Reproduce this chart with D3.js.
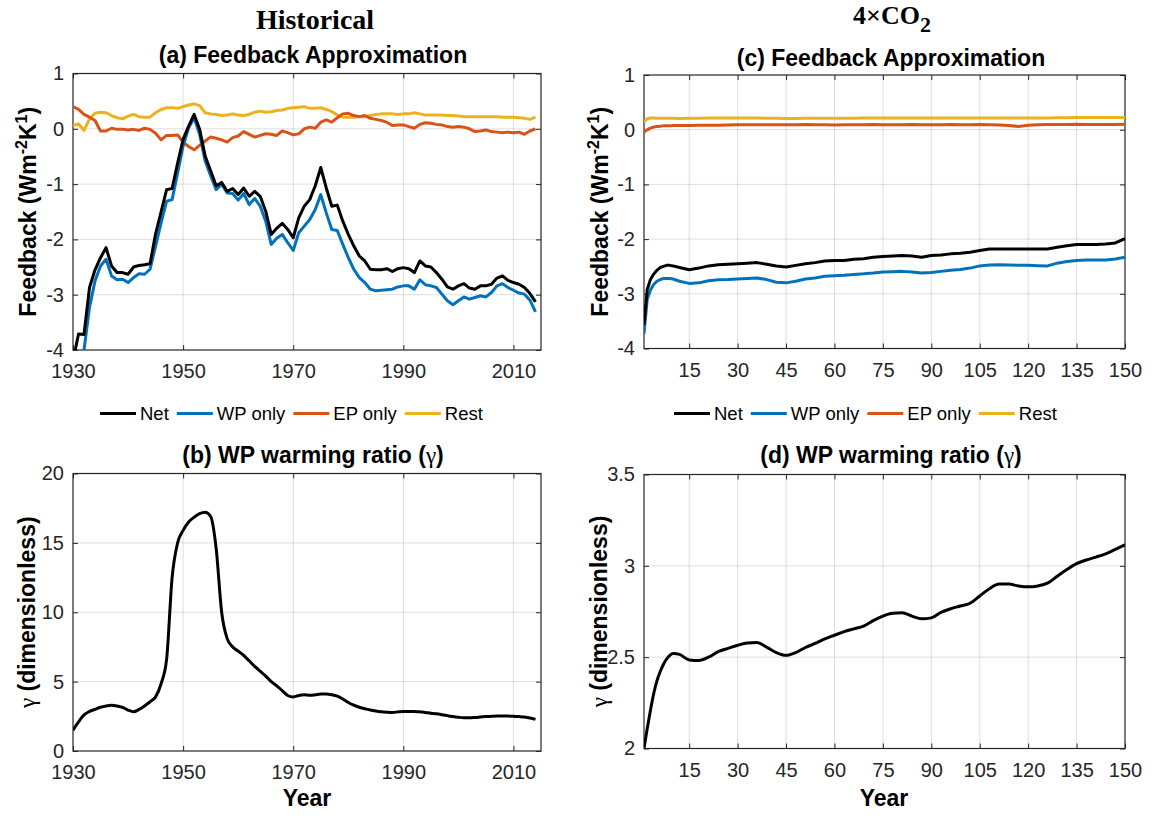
<!DOCTYPE html>
<html>
<head>
<meta charset="utf-8">
<script src="https://cdn.jsdelivr.net/npm/d3@7"></script>
<style>
  body { margin: 0; background: #fff; }
</style>
</head>
<body>
<div id="chart"></div>
<script>
// ---- data ----
const histYears = d3.range(1930, 2015);

const histNet = [
  -4.2, -3.71, -3.72, -2.87, -2.55, -2.33, -2.15, -2.48, -2.60, -2.60,
  -2.63, -2.50, -2.47, -2.46, -2.44, -1.90, -1.50, -1.10, -1.08, -0.62,
  -0.19, 0.05, 0.26, -0.01, -0.49, -0.76, -1.03, -0.97, -1.13, -1.08,
  -1.19, -1.07, -1.22, -1.13, -1.22, -1.49, -1.91, -1.80, -1.71, -1.82,
  -1.97, -1.61, -1.40, -1.28, -1.03, -0.70, -1.07, -1.40, -1.38, -1.67,
  -1.91, -2.12, -2.30, -2.39, -2.54, -2.55, -2.55, -2.53, -2.58, -2.53,
  -2.51, -2.53, -2.60, -2.39, -2.48, -2.50, -2.60, -2.72, -2.86, -2.90,
  -2.84, -2.80, -2.88, -2.90, -2.84, -2.84, -2.81, -2.70, -2.66, -2.74,
  -2.78, -2.81, -2.87, -2.98, -3.13
];
const histWP = [
  -5.0, -4.5, -4.0, -3.23, -2.75, -2.48, -2.36, -2.66, -2.73, -2.72,
  -2.78, -2.69, -2.62, -2.63, -2.54, -2.12, -1.70, -1.31, -1.28, -0.80,
  -0.31, 0.02, 0.20, -0.10, -0.58, -0.85, -1.10, -1.00, -1.16, -1.17,
  -1.29, -1.17, -1.37, -1.26, -1.40, -1.67, -2.09, -1.98, -1.91, -2.06,
  -2.20, -1.88, -1.76, -1.64, -1.46, -1.19, -1.52, -1.82, -1.84, -2.09,
  -2.33, -2.54, -2.69, -2.78, -2.90, -2.93, -2.92, -2.91, -2.90, -2.86,
  -2.84, -2.84, -2.90, -2.73, -2.82, -2.84, -2.87, -2.99, -3.11, -3.18,
  -3.11, -3.04, -3.08, -3.05, -3.02, -3.04, -2.96, -2.84, -2.80, -2.87,
  -2.92, -2.97, -2.99, -3.10, -3.31
];
const histEP = [
  0.40, 0.35, 0.26, 0.21, 0.15, -0.04, -0.04, 0.01, -0.01, -0.01,
  -0.02, -0.01, -0.03, 0.01, -0.01, -0.08, -0.20, -0.12, -0.12, -0.11,
  -0.24, -0.32, -0.38, -0.30, -0.22, -0.15, -0.17, -0.20, -0.24, -0.16,
  -0.13, -0.05, -0.10, -0.15, -0.12, -0.09, -0.10, -0.12, -0.04, -0.07,
  -0.11, -0.09, 0.00, 0.03, 0.01, 0.12, 0.16, 0.12, 0.20, 0.27,
  0.28, 0.24, 0.22, 0.24, 0.19, 0.17, 0.15, 0.12, 0.06, 0.07,
  0.07, 0.04, 0.01, 0.08, 0.11, 0.10, 0.08, 0.07, 0.04, 0.03,
  0.04, 0.03, 0.00, -0.05, -0.04, -0.02, -0.05, -0.06, -0.07, -0.06,
  -0.07, -0.06, -0.10, -0.04, 0.00
];
const histRest = [
  0.06, 0.09, -0.03, 0.18, 0.28, 0.30, 0.29, 0.24, 0.20, 0.18,
  0.23, 0.26, 0.22, 0.21, 0.21, 0.29, 0.35, 0.38, 0.38, 0.37,
  0.40, 0.43, 0.45, 0.42, 0.29, 0.27, 0.26, 0.24, 0.25, 0.27,
  0.25, 0.24, 0.26, 0.30, 0.32, 0.30, 0.31, 0.33, 0.34, 0.37,
  0.38, 0.39, 0.40, 0.37, 0.37, 0.38, 0.35, 0.31, 0.25, 0.21,
  0.21, 0.21, 0.22, 0.22, 0.24, 0.26, 0.27, 0.27, 0.27, 0.26,
  0.27, 0.27, 0.29, 0.27, 0.25, 0.25, 0.25, 0.25, 0.24, 0.24,
  0.23, 0.22, 0.22, 0.22, 0.22, 0.22, 0.22, 0.22, 0.21, 0.21,
  0.21, 0.20, 0.19, 0.17, 0.21
];
const histGamma = [
  1.5, 2.1, 2.6, 2.85, 3.0, 3.15, 3.25, 3.3, 3.25, 3.15,
  2.95, 2.83, 3.0, 3.25, 3.55, 3.9, 4.85, 6.6, 12.5, 15.0,
  15.9, 16.5, 16.85, 17.1, 17.2, 16.9, 14.6, 10.0, 8.1, 7.5,
  7.2, 6.9, 6.5, 6.1, 5.75, 5.4, 5.0, 4.7, 4.35, 4.0,
  3.9, 4.0, 4.05, 4.02, 4.05, 4.1, 4.1, 4.05, 3.95, 3.75,
  3.5, 3.3, 3.15, 3.05, 2.95, 2.88, 2.83, 2.8, 2.78, 2.82,
  2.85, 2.85, 2.84, 2.83, 2.78, 2.72, 2.68, 2.62, 2.55, 2.48,
  2.43, 2.4, 2.4, 2.42, 2.45, 2.48, 2.5, 2.52, 2.52, 2.52,
  2.5, 2.48, 2.45, 2.38, 2.28
];

const co2Years = [
  1, 2, 3, 4, 5, 6, 7, 8, 9, 10, 12,
  15, 18, 21, 24, 27, 30, 33, 36, 39, 42,
  45, 48, 51, 54, 57, 60, 63, 66, 69, 72,
  75, 78, 81, 84, 87, 90, 93, 96, 99, 102,
  105, 108, 111, 114, 117, 120, 123, 126, 129, 132,
  135, 138, 141, 144, 147, 150
];
const co2Net = [
  -3.57, -2.92, -2.74, -2.64, -2.57, -2.52, -2.50, -2.48, -2.48, -2.49, -2.52,
  -2.56, -2.53, -2.49, -2.47, -2.46, -2.45, -2.44, -2.43, -2.46, -2.49,
  -2.51, -2.48, -2.45, -2.43, -2.40, -2.39, -2.39, -2.37, -2.36, -2.33,
  -2.32, -2.31, -2.30, -2.31, -2.33, -2.30, -2.29, -2.27, -2.26, -2.24,
  -2.21, -2.18, -2.18, -2.18, -2.18, -2.18, -2.18, -2.18, -2.15, -2.12,
  -2.10, -2.10, -2.10, -2.09, -2.07, -1.99
];
const co2WP = [
  -3.73, -3.10, -2.93, -2.83, -2.77, -2.74, -2.72, -2.72, -2.72, -2.73, -2.77,
  -2.81, -2.80, -2.76, -2.745, -2.74, -2.73, -2.72, -2.71, -2.74, -2.79,
  -2.80, -2.77, -2.73, -2.71, -2.68, -2.67, -2.66, -2.645, -2.635, -2.62,
  -2.60, -2.595, -2.59, -2.60, -2.62, -2.61, -2.59, -2.57, -2.555, -2.53,
  -2.49, -2.475, -2.47, -2.475, -2.48, -2.48, -2.485, -2.49, -2.44, -2.41,
  -2.39, -2.38, -2.38, -2.38, -2.365, -2.33
];
const co2EP = [
  -0.04, 0.00, 0.03, 0.05, 0.06, 0.065, 0.07, 0.07, 0.07, 0.075, 0.075,
  0.075, 0.08, 0.08, 0.08, 0.085, 0.09, 0.09, 0.09, 0.09, 0.09,
  0.09, 0.09, 0.095, 0.09, 0.09, 0.085, 0.09, 0.09, 0.09, 0.095,
  0.09, 0.09, 0.09, 0.095, 0.09, 0.09, 0.09, 0.095, 0.09, 0.09,
  0.095, 0.09, 0.085, 0.075, 0.06, 0.08, 0.09, 0.095, 0.095, 0.095,
  0.10, 0.095, 0.095, 0.095, 0.095, 0.10
];
const co2Rest = [
  0.14, 0.20, 0.215, 0.215, 0.21, 0.21, 0.21, 0.21, 0.21, 0.21, 0.205,
  0.21, 0.21, 0.215, 0.215, 0.215, 0.215, 0.215, 0.215, 0.21, 0.21,
  0.205, 0.205, 0.21, 0.21, 0.21, 0.21, 0.21, 0.21, 0.215, 0.215,
  0.215, 0.215, 0.215, 0.215, 0.215, 0.215, 0.215, 0.215, 0.215, 0.215,
  0.215, 0.215, 0.215, 0.215, 0.215, 0.215, 0.215, 0.215, 0.22, 0.22,
  0.225, 0.225, 0.225, 0.225, 0.225, 0.225
];
const co2Gamma = [
  2.00, 2.11, 2.21, 2.30, 2.37, 2.42, 2.46, 2.49, 2.51, 2.52, 2.515,
  2.485, 2.482, 2.50, 2.53, 2.548, 2.565, 2.578, 2.58, 2.555, 2.525,
  2.51, 2.525, 2.553, 2.575, 2.60, 2.62, 2.64, 2.655, 2.67, 2.70,
  2.725, 2.74, 2.743, 2.725, 2.71, 2.715, 2.745, 2.765, 2.78, 2.795,
  2.835, 2.875, 2.90, 2.90, 2.89, 2.885, 2.89, 2.905, 2.943, 2.98,
  3.012, 3.032, 3.048, 3.066, 3.09, 3.115
];

const seriesNames = ["Net", "WP only", "EP only", "Rest"];
const seriesColors = ["#000000", "#0072BD", "#D95319", "#EDB120"];

const histTicks = [1930, 1950, 1970, 1990, 2010];
const co2Ticks = [15, 30, 45, 60, 75, 90, 105, 120, 135, 150];
const feedbackTicks = [-4, -3, -2, -1, 0, 1];
const histGammaTicks = [0, 5, 10, 15, 20];
const co2GammaTicks = [2, 2.5, 3, 3.5];

// ---- layout ----
const width = 1154;
const height = 816;
const FONT = "'Liberation Sans', Arial, Helvetica, sans-serif";
const SERIF = "'Liberation Serif', 'Times New Roman', serif";
const INK = "#262626";

const boxA = { left: 73, right: 541, top: 73.5, bottom: 350 };
const boxB = { left: 73, right: 541, top: 473.5, bottom: 751 };
const boxC = { left: 644, right: 1125, top: 75, bottom: 348.5 };
const boxD = { left: 644, right: 1125, top: 474.5, bottom: 748.5 };

const svg = d3.create("svg")
    .attr("width", width)
    .attr("height", height)
    .attr("viewBox", [0, 0, width, height])
    .attr("font-family", FONT);

document.getElementById("chart").appendChild(svg.node());

svg.append("rect").attr("width", width).attr("height", height).attr("fill", "#fff");

let clipCount = 0;

/*
Axes frame: grid, box, inward ticks on all sides, tick labels.
*/
function drawAxes(box, xDomain, yDomain, xTicks, yTicks) {
    const x = d3.scaleLinear().domain(xDomain).range([box.left, box.right]);
    const y = d3.scaleLinear().domain(yDomain).range([box.bottom, box.top]);
    const g = svg.append("g");

    // grid
    g.append("g")
        .selectAll("line")
        .data(xTicks.filter(t => t > xDomain[0] && t < xDomain[1]))
        .join("line")
            .attr("x1", d => x(d)).attr("x2", d => x(d))
            .attr("y1", box.top).attr("y2", box.bottom)
            .attr("stroke", INK).attr("stroke-opacity", 0.15);
    g.append("g")
        .selectAll("line")
        .data(yTicks.filter(t => t > yDomain[0] && t < yDomain[1]))
        .join("line")
            .attr("y1", d => y(d)).attr("y2", d => y(d))
            .attr("x1", box.left).attr("x2", box.right)
            .attr("stroke", INK).attr("stroke-opacity", 0.15);

    const style = sel => {
        sel.select(".domain").remove();
        sel.attr("font-family", FONT).attr("font-size", 20);
        sel.selectAll("line").attr("stroke", INK);
        sel.selectAll("text").attr("fill", INK);
    };

    g.append("g")
        .attr("transform", `translate(0,${box.bottom})`)
        .call(d3.axisBottom(x).tickValues(xTicks).tickSizeInner(-5).tickSizeOuter(0)
            .tickPadding(14).tickFormat(d => String(d)))
        .call(style);
    g.append("g")
        .attr("transform", `translate(0,${box.top})`)
        .call(d3.axisTop(x).tickValues(xTicks).tickSizeInner(-5).tickSizeOuter(0).tickFormat(""))
        .call(style);
    g.append("g")
        .attr("transform", `translate(${box.left},0)`)
        .call(d3.axisLeft(y).tickValues(yTicks).tickSizeInner(-5).tickSizeOuter(0)
            .tickPadding(9).tickFormat(d => String(d)))
        .call(style);
    g.append("g")
        .attr("transform", `translate(${box.right},0)`)
        .call(d3.axisRight(y).tickValues(yTicks).tickSizeInner(-5).tickSizeOuter(0).tickFormat(""))
        .call(style);

    g.append("rect")
        .attr("x", box.left).attr("y", box.top)
        .attr("width", box.right - box.left).attr("height", box.bottom - box.top)
        .attr("fill", "none").attr("stroke", INK).attr("stroke-width", 1.2);

    const id = "clip" + (clipCount++);
    svg.append("clipPath").attr("id", id)
        .append("rect")
        .attr("x", box.left).attr("y", box.top)
        .attr("width", box.right - box.left).attr("height", box.bottom - box.top);

    const plot = svg.append("g").attr("clip-path", `url(#${id})`);
    return { x, y, plot };
}

/*
Draw one line per series.
*/
function drawLines(ax, xs, seriesList, curve) {
    const line = d3.line()
        .x((d, i) => ax.x(xs[i]))
        .y(d => ax.y(d))
        .curve(curve);
    ax.plot.selectAll("path.series")
        .data(seriesList)
        .join("path")
            .attr("class", "series")
            .attr("fill", "none")
            .attr("stroke", d => d.color)
            .attr("stroke-width", 3)
            .attr("stroke-linejoin", "round")
            .attr("d", d => line(d.values));
}

/*
Legend laid out in one row.
*/
function drawLegend(startX, cy) {
    const g = svg.append("g").attr("font-size", 18.5).attr("fill", "#000");
    let cx = startX;
    seriesNames.forEach((name, i) => {
        g.append("line")
            .attr("x1", cx).attr("x2", cx + 36)
            .attr("y1", cy).attr("y2", cy)
            .attr("stroke", seriesColors[i]).attr("stroke-width", 3);
        const t = g.append("text")
            .attr("x", cx + 40).attr("y", cy)
            .attr("dy", "0.35em")
            .text(name);
        cx += 40 + t.node().getComputedTextLength() + 8;
    });
}

function boldTitle(cx, baseline, parts) {
    const t = svg.append("text")
        .attr("x", cx).attr("y", baseline)
        .attr("text-anchor", "middle")
        .attr("font-size", 23).attr("font-weight", "bold")
        .attr("fill", "#000");
    parts.forEach(p => {
        const s = t.append("tspan").text(p.text);
        if (p.greek) s.attr("font-family", SERIF).attr("font-weight", "normal");
    });
    return t;
}

function feedbackLabel(cx, cy) {
    const t = svg.append("text")
        .attr("transform", `translate(${cx},${cy}) rotate(-90)`)
        .attr("text-anchor", "middle")
        .attr("font-size", 23).attr("font-weight", "bold")
        .attr("fill", "#000");
    t.append("tspan").text("Feedback (Wm");
    t.append("tspan").attr("dy", -9).attr("font-size", 16).text("-2");
    t.append("tspan").attr("dy", 9).text("K");
    t.append("tspan").attr("dy", -9).attr("font-size", 16).text("1");
    t.append("tspan").attr("dy", 9).text(")");
}

function gammaLabel(cx, cy) {
    const t = svg.append("text")
        .attr("transform", `translate(${cx},${cy}) rotate(-90)`)
        .attr("text-anchor", "middle")
        .attr("font-size", 23)
        .attr("fill", "#000");
    t.append("tspan").attr("font-family", SERIF).text("γ");
    t.append("tspan").attr("font-weight", "bold").text(" (dimensionless)");
}

// ---- column titles ----
svg.append("text")
    .attr("x", 315).attr("y", 29)
    .attr("text-anchor", "middle")
    .attr("font-family", SERIF).attr("font-weight", "bold").attr("font-size", 28)
    .text("Historical");

const co2Title = svg.append("text")
    .attr("x", 892).attr("y", 24)
    .attr("text-anchor", "middle")
    .attr("font-family", SERIF).attr("font-weight", "bold").attr("font-size", 26);
co2Title.append("tspan").text("4×CO");
co2Title.append("tspan").attr("dy", 8).attr("font-size", 22).text("2");

// ---- (a) ----
const axA = drawAxes(boxA, [1930, 2015], [-4, 1], histTicks, feedbackTicks);
drawLines(axA, histYears, [
    { color: seriesColors[3], values: histRest },
    { color: seriesColors[2], values: histEP },
    { color: seriesColors[1], values: histWP },
    { color: seriesColors[0], values: histNet }
], d3.curveLinear);
boldTitle(313, 62.5, [{ text: "(a) Feedback Approximation" }]);
feedbackLabel(36, (boxA.top + boxA.bottom) / 2);
drawLegend(100, 413.5);

// ---- (c) ----
const axC = drawAxes(boxC, [1, 150], [-4, 1], co2Ticks, feedbackTicks);
drawLines(axC, co2Years, [
    { color: seriesColors[3], values: co2Rest },
    { color: seriesColors[2], values: co2EP },
    { color: seriesColors[1], values: co2WP },
    { color: seriesColors[0], values: co2Net }
], d3.curveLinear);
boldTitle(891, 65.5, [{ text: "(c) Feedback Approximation" }]);
feedbackLabel(608, (boxC.top + boxC.bottom) / 2);
drawLegend(674, 413.5);

// ---- (b) ----
const axB = drawAxes(boxB, [1930, 2015], [0, 20], histTicks, histGammaTicks);
drawLines(axB, histYears, [{ color: "#000", values: histGamma }], d3.curveMonotoneX);
boldTitle(313, 463, [{ text: "(b) WP warming ratio (" }, { text: "γ", greek: true }, { text: ")" }]);
gammaLabel(35, (boxB.top + boxB.bottom) / 2);
svg.append("text").attr("x", 307).attr("y", 806)
    .attr("text-anchor", "middle").attr("font-size", 23).attr("font-weight", "bold")
    .text("Year");

// ---- (d) ----
const axD = drawAxes(boxD, [1, 150], [2, 3.5], co2Ticks, co2GammaTicks);
drawLines(axD, co2Years, [{ color: "#000", values: co2Gamma }], d3.curveMonotoneX);
boldTitle(891, 463, [{ text: "(d) WP warming ratio (" }, { text: "γ", greek: true }, { text: ")" }]);
gammaLabel(607, (boxD.top + boxD.bottom) / 2);
svg.append("text").attr("x", 884).attr("y", 806)
    .attr("text-anchor", "middle").attr("font-size", 23).attr("font-weight", "bold")
    .text("Year");
</script>
</body>
</html>
